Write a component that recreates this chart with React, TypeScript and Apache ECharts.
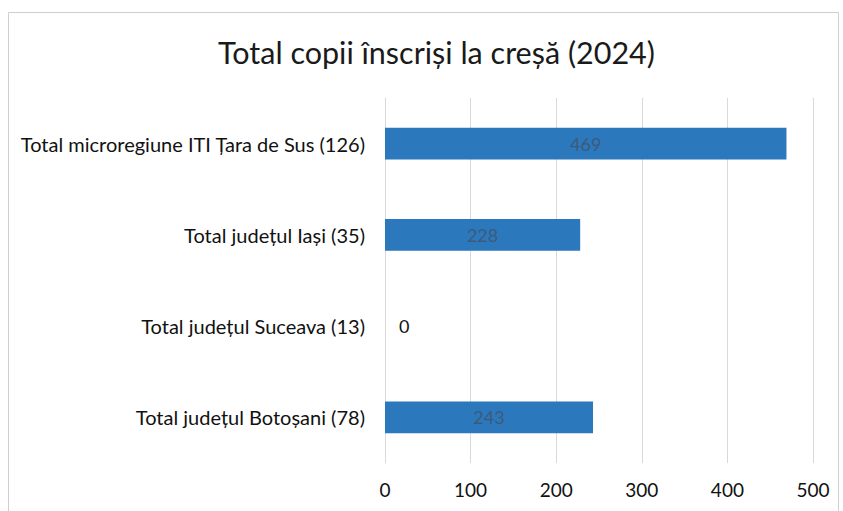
import React, { useEffect, useRef } from "react";
import * as echarts from "echarts";

const titleText = "Total copii înscriși la creșă (2024)";
const categories = [
  "Total microregiune ITI Țara de Sus (126)",
  "Total județul Iași (35)",
  "Total județul Suceava (13)",
  "Total județul Botoșani (78)",
];
const values = [469, 228, 0, 243];
const axisMin = 0;
const axisMax = 500;
const axisInterval = 100;

const FONT = "Lato, 'Open Sans', sans-serif";

export default function App() {
  const ref = useRef<HTMLDivElement>(null);
  useEffect(() => {
    if (!ref.current) return;
    const chart = echarts.init(ref.current, undefined, { renderer: "svg" });
    chart.setOption({
      animation: false,
      backgroundColor: "#ffffff",
      title: {
        text: titleText,
        left: 213,
        top: 31,
        textStyle: { fontFamily: FONT, fontSize: 30.5, fontWeight: "normal", color: "#1a1a1a" },
      },
      graphic: [
        {
          type: "rect",
          shape: { x: 8.5, y: 12.5, width: 830, height: 500 },
          style: { fill: "none", stroke: "#cfcfcf", lineWidth: 1 },
          silent: true,
        },
      ],
      grid: { left: 385, right: 30, top: 98, bottom: 48, containLabel: false },
      xAxis: {
        type: "value",
        min: axisMin,
        max: axisMax,
        interval: axisInterval,
        axisLine: { show: false },
        axisTick: { show: false },
        splitLine: { show: true, lineStyle: { color: "#d9d9d9", width: 1 } },
        axisLabel: { fontFamily: FONT, fontSize: 19, color: "#111111", margin: 17 },
      },
      yAxis: {
        type: "category",
        data: categories,
        inverse: true,
        axisLine: { show: true, lineStyle: { color: "#d9d9d9" } },
        axisTick: { show: false },
        axisLabel: { fontFamily: FONT, fontSize: 20, color: "#111111", margin: 20 },
      },
      series: [
        {
          type: "bar",
          barWidth: "35%",
          itemStyle: { color: "#2b78bd" },
          data: values.map((v) => ({
            value: v,
            label:
              v === 0
                ? { show: true, position: "right", distance: 14, color: "#111111" }
                : { show: true, position: "inside", color: "#3f5a78" },
          })),
          label: { fontFamily: FONT, fontSize: 18 },
        },
      ],
    });
    return () => chart.dispose();
  }, []);
  return (
    <div
      ref={ref}
      style={{ position: "fixed", left: 0, top: 0, width: 843, height: 511 }}
    />
  );
}
